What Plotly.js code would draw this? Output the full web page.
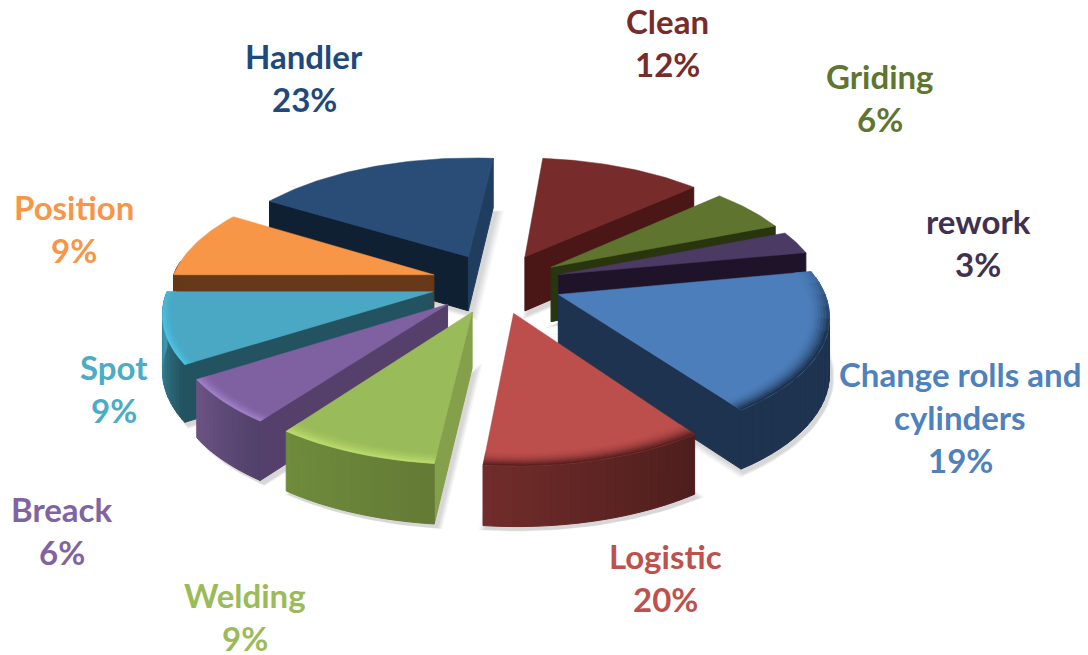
<!DOCTYPE html>
<html><head><meta charset="utf-8">
<script src="https://cdn.plot.ly/plotly-3.0.1.min.js"></script>
<style>html,body{margin:0;padding:0;background:#fff}#c{width:1088px;height:655px}</style>
</head><body><div id="c"></div>
<script>
// ---- data ----
const categories = ["Clean","Griding","rework","Change rolls and<br>cylinders","Logistic","Welding","Breack","Spot","Position","Handler"];
const percentLabels = [12,6,3,19,20,9,6,9,9,23];
const wedgeDegrees = [42,20.5,11,66,41,30,21,33,32,63.5];   // sweep of each wedge as drawn
const firstWedgeStart = 5.5;

// ---- styles ----
const labelColors = ["#772C2A","#5F7530","#403152","#4F81BD","#C0504D","#9BBB59","#8064A2","#4BACC6","#F79646","#1F497D"];
const topColors   = ["#772B2A","#5F752F","#4B3A63","#4C7EBB","#BC4E4C","#9ABB59","#7F60A0","#4AA8C5","#F79646","#2A4D78"];
const wallStart   = ["#4A1616","#28350F","#1E1329","#1D334F","#4D1E1D","#84A04A","#54406B","#235360","#65391A","#0F2033"];
const wallEnd     = ["#4A1616","#28350F","#1E1329","#1D334F","#4D1E1D","#84A04A","#54406B","#235360","#65391A","#1F3D5F"];
const outerFrom   = ["#4A1616","#28350F","#1E1329","#1D334F","#4D1E1D","#647A35","#51406A","#235360","#65391A","#0F2033"];
const outerTo     = ["#4A1616","#28350F","#1E1329","#1D334F","#702C2A","#6E8C3C","#6B5483","#3F97B0","#65391A","#0F2033"];
const bevelColors = [null,null,null,"#1D334F","#5A2120","#B9DA6C","#A080C8","#4CC4E4",null,null];
const bevelBands  = [0,0,0,0.07,0.07,0.065,0.05,0.035,0,0];
const labelX = [667,880,978,960,665,245,62,114,74,304];
const labelY = [21,76,221,374,556,595,509,367,207,56];
const lineGap = 43;

// ---- projection parameters ----
const cx=496.5, cy=283, rx=263, ryK=120.5, persp=0.1466, explode=0.25;
function thick(Y){ return 55-4.5*Y; }
function proj(X,Y,low){
  const d=1+persp*Y;
  return [cx+rx*X/d, cy-ryK*Y/d+(low?thick(Y):0)];
}
function rgb(h){return [1,3,5].map(i=>parseInt(h.substr(i,2),16));}
function mix(a,b,t){const A=rgb(a),B=rgb(b);return "rgb("+A.map((v,i)=>Math.round(v+(B[i]-v)*t)).join(",")+")";}
const traces=[];
function poly(pts,color,w){
  traces.push({type:"scatter",mode:"lines",x:pts.map(p=>p[0]).concat(pts[0][0]),y:pts.map(p=>p[1]).concat(pts[0][1]),
    fill:"toself",fillcolor:color,line:{color:color,width:w===undefined?1:w},hoverinfo:"skip",showlegend:false});
}
function area(p){let s=0;for(let i=0;i<p.length;i++){const q=p[(i+1)%p.length];s+=p[i][0]*q[1]-q[0]*p[i][1];}return s/2;}

// wedge angles
let acc=firstWedgeStart;
const wedges=categories.map((c,i)=>{
  const a0=acc,a1=acc+wedgeDegrees[i];acc=a1;
  const m=(a0+a1)/2*Math.PI/180;
  return {i,a0,a1,m,ox:explode*Math.sin(m),oy:explode*Math.cos(m)};
});
function rim(w,deg,r,low){
  const t=deg*Math.PI/180;
  return proj(w.ox+r*Math.sin(t),w.oy+r*Math.cos(t),low);
}
function apex(w,low){return proj(w.ox,w.oy,low);}

// soft shadow under each wedge
const SEG=24;
wedges.forEach(w=>{
  const pts=[apex(w,true)];
  for(let k=0;k<=SEG;k++)pts.push(rim(w,w.a0+(w.a1-w.a0)*k/SEG,1,true));
  const gx=pts.reduce((s,p)=>s+p[0],0)/pts.length, gy=pts.reduce((s,p)=>s+p[1],0)/pts.length;
  for(let s=8;s>=1;s--){
    const f=1+s*0.009;
    poly(pts.map(p=>[gx+(p[0]-gx)*f+3,gy+(p[1]-gy)*f+4]),"rgba(0,0,0,0.018)",0);
  }
});

// back-to-front painting
wedges.slice().sort((a,b)=>b.oy-a.oy).forEach(w=>{
  const i=w.i;
  const sideA=[apex(w,false),rim(w,w.a0,1,false),rim(w,w.a0,1,true),apex(w,true)];
  const sideB=[apex(w,false),rim(w,w.a1,1,false),rim(w,w.a1,1,true),apex(w,true)];
  if(area(sideA)<0)poly(sideA,wallStart[i]);
  if(area(sideB)>0)poly(sideB,wallEnd[i]);
  for(let k=0;k<SEG;k++){
    const d0=w.a0+(w.a1-w.a0)*k/SEG,d1=w.a0+(w.a1-w.a0)*(k+1)/SEG;
    if(Math.cos((d0+d1)/2*Math.PI/180)>0.12)continue;
    poly([rim(w,d0,1,false),rim(w,d1,1,false),rim(w,d1,1,true),rim(w,d0,1,true)],mix(outerFrom[i],outerTo[i],k/(SEG-1)));
  }
  const top=[apex(w,false)];
  for(let k=0;k<=SEG*2;k++)top.push(rim(w,w.a0+(w.a1-w.a0)*k/(SEG*2),1,false));
  poly(top,topColors[i],0.5);
  if(bevelColors[i]){
    const rings=7,band=bevelBands[i];
    for(let r=0;r<rings;r++){
      const r0=1-band+band*r/rings,r1=1-band+band*(r+1)/rings;
      for(let k=0;k<SEG;k+=2){
        const d0=w.a0+(w.a1-w.a0)*k/SEG,d1=w.a0+(w.a1-w.a0)*(k+2)/SEG;
        const Y=Math.cos((d0+d1)/2*Math.PI/180);
        const f=Math.max(0,Math.min(1,(0.3-Y)/0.6));
        if(f<=0)continue;
        poly([rim(w,d0,r0,false),rim(w,(d0+d1)/2,r0,false),rim(w,d1,r0,false),rim(w,d1,r1,false),rim(w,(d0+d1)/2,r1,false),rim(w,d0,r1,false)],
             mix(topColors[i],bevelColors[i],f*Math.pow((r+1)/rings,1.8)),0.4);
      }
    }
  }
});

// labels
const annotations=[];
categories.forEach((c,i)=>{
  const lines=c.split("<br>").concat(percentLabels[i]+"%");
  lines.forEach((t,j)=>annotations.push({xref:"x",yref:"y",x:labelX[i],y:labelY[i]+j*lineGap,text:t,showarrow:false,
    xanchor:"center",yanchor:"middle",font:{family:"Lato, 'Open Sans', sans-serif",size:33,color:labelColors[i],weight:700}}));
});

Plotly.newPlot("c",traces,{
  width:1088,height:655,margin:{l:0,r:0,t:0,b:0},paper_bgcolor:"#fff",plot_bgcolor:"#fff",showlegend:false,
  xaxis:{range:[0,1088],visible:false,fixedrange:true},
  yaxis:{range:[655,0],visible:false,fixedrange:true},
  annotations:annotations
},{staticPlot:true,displayModeBar:false});
</script></body></html>
